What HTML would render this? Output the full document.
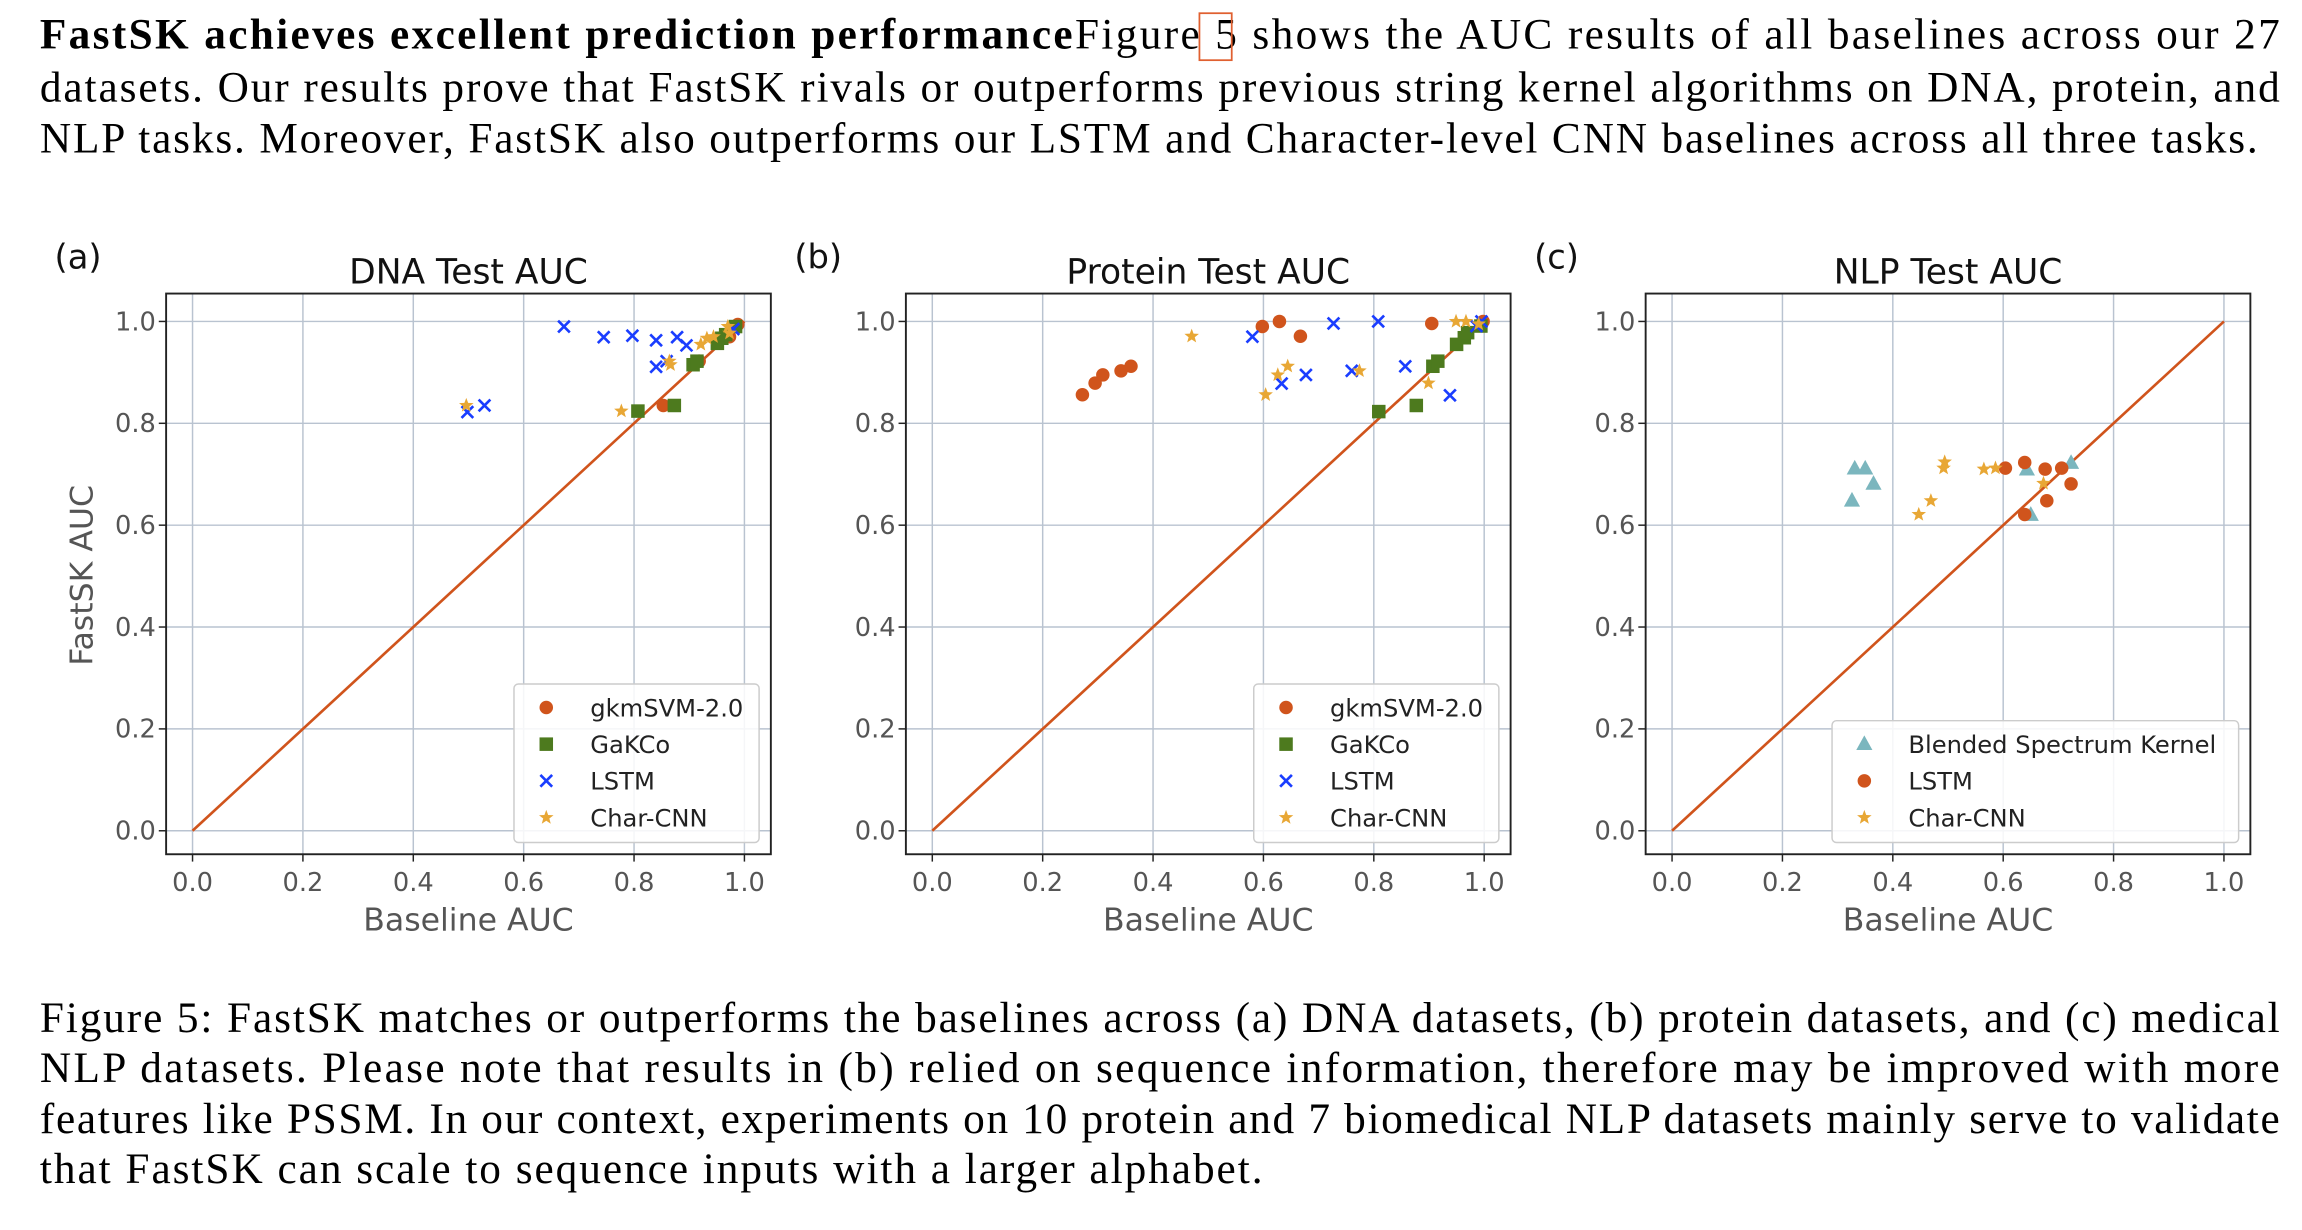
<!DOCTYPE html>
<html><head><meta charset="utf-8"><style>
html,body{margin:0;padding:0;background:#fff;}
svg{display:block;}
</style></head><body>
<svg id="fig" width="2302" height="1230" viewBox="0 0 1568 838" xmlns="http://www.w3.org/2000/svg">
<g font-family="'Liberation Serif', serif" font-size="29.5" fill="#000">
<text x="27" y="33" textLength="1526" lengthAdjust="spacing"><tspan font-weight="bold">FastSK achieves excellent prediction performance</tspan>Figure 5 shows the AUC results of all baselines across our 27</text>
<text x="27" y="69" textLength="1526" lengthAdjust="spacing">datasets. Our results prove that FastSK  rivals or outperforms previous string kernel algorithms on DNA, protein, and</text>
<text x="27" y="104" textLength="1511" lengthAdjust="spacing">NLP tasks. Moreover, FastSK also outperforms our LSTM and Character-level CNN baselines across all three tasks.</text>
<rect x="817" y="9" width="22" height="32" fill="none" stroke="#e06030" stroke-width="1.2"/>
</g>
<g font-family="'Liberation Serif', serif" font-size="29.5" fill="#000">
<text x="27" y="703" textLength="1526" lengthAdjust="spacing">Figure 5: FastSK  matches or outperforms the baselines across (a) DNA datasets, (b) protein datasets, and (c) medical</text>
<text x="27" y="737" textLength="1526" lengthAdjust="spacing">NLP datasets. Please note that results in (b) relied on sequence information, therefore may be improved with more</text>
<text x="27" y="772" textLength="1526" lengthAdjust="spacing">features like PSSM. In our context, experiments on 10 protein and 7 biomedical NLP datasets mainly serve to validate</text>
<text x="27" y="806" textLength="833" lengthAdjust="spacing">that FastSK  can scale to sequence inputs with a larger alphabet.</text>
</g>
<g id="charts"></g>
</svg>
<script>
// Panel (a) DNA
const dnaGkmX=[0.853,0.918,0.973,0.988];
const dnaGkmY=[0.835,0.922,0.970,0.994];
const dnaGakX=[0.807,0.873,0.907,0.914,0.951,0.959,0.966,0.984];
const dnaGakY=[0.824,0.835,0.915,0.922,0.957,0.967,0.974,0.990];
const dnaLstmX=[0.673,0.745,0.797,0.840,0.878,0.895,0.840,0.859,0.498,0.529,0.980];
const dnaLstmY=[0.990,0.969,0.972,0.963,0.969,0.953,0.911,0.922,0.822,0.835,0.985];
const dnaCnnX=[0.496,0.777,0.866,0.864,0.921,0.932,0.944,0.970,0.973];
const dnaCnnY=[0.835,0.824,0.915,0.922,0.955,0.967,0.970,0.990,0.977];
// Panel (b) Protein
const proGkmX=[0.272,0.295,0.309,0.342,0.360,0.598,0.629,0.667,0.905,0.998];
const proGkmY=[0.856,0.879,0.895,0.903,0.912,0.990,1.000,0.971,0.996,1.000];
const proGakX=[0.809,0.877,0.907,0.916,0.950,0.964,0.970,0.994];
const proGakY=[0.823,0.835,0.912,0.922,0.955,0.968,0.978,0.991];
const proLstmX=[0.580,0.633,0.677,0.727,0.760,0.808,0.857,0.938,0.986,0.995];
const proLstmY=[0.970,0.878,0.895,0.996,0.903,1.000,0.912,0.855,0.991,1.000];
const proCnnX=[0.470,0.604,0.626,0.644,0.774,0.899,0.949,0.967,0.990];
const proCnnY=[0.971,0.856,0.895,0.912,0.903,0.879,1.000,1.000,0.995];
// Panel (c) NLP
const nlpBskX=[0.331,0.350,0.365,0.326,0.643,0.650,0.723];
const nlpBskY=[0.711,0.711,0.681,0.648,0.709,0.620,0.722];
const nlpLstmX=[0.604,0.639,0.676,0.706,0.723,0.679,0.639];
const nlpLstmY=[0.712,0.723,0.710,0.712,0.681,0.648,0.621];
const nlpCnnX=[0.447,0.469,0.494,0.492,0.565,0.586,0.673];
const nlpCnnY=[0.621,0.648,0.724,0.712,0.710,0.712,0.682];
const tickVals=[0.0,0.2,0.4,0.6,0.8,1.0];
const tickLabels=["0.0","0.2","0.4","0.6","0.8","1.0"];

const NS="http://www.w3.org/2000/svg";
const root=document.getElementById('charts');
function mk(tag,attrs,parent){const e=document.createElementNS(NS,tag);for(const k in attrs)e.setAttribute(k,attrs[k]);parent.appendChild(e);return e;}
const C={gkm:"#d0541c",gak:"#4d7a1e",lstm:"#1a3dff",cnn:"#e8a735",bsk:"#7bb6be",diag:"#d0541c"};

function marker(type,cx,cy,g,name){
  let e;
  if(type==="gkm"){e=mk('circle',{cx:cx,cy:cy,r:4.6,fill:C.gkm},g);}
  else if(type==="gak"){e=mk('rect',{x:cx-4.6,y:cy-4.6,width:9.2,height:9.2,fill:C.gak},g);}
  else if(type==="lstm"){e=mk('path',{d:`M${cx-4},${cy-4}L${cx+4},${cy+4}M${cx-4},${cy+4}L${cx+4},${cy-4}`,stroke:C.lstm,'stroke-width':1.8,fill:'none'},g);}
  else if(type==="cnn"){let p=[];for(let i=0;i<10;i++){const r=i%2?2.2:5.2;const a=-Math.PI/2+i*Math.PI/5;p.push((cx+r*Math.cos(a)).toFixed(2)+","+(cy+r*Math.sin(a)).toFixed(2));}e=mk('polygon',{points:p.join(" "),fill:C.cnn},g);}
  else {e=mk('polygon',{points:`${cx},${cy-6} ${cx+5.5},${cy+4} ${cx-5.5},${cy+4}`,fill:C.bsk},g);}
  
  
  return e;
}

function panel(opt){
  const g=mk('g',{},root);
  
  
  const L=opt.left,R=L+412,T=200,B=582,x0=L+18,x1=L+394,y0=566,y1=219;
  const sx=v=>x0+(x1-x0)*v, sy=v=>y0-(y0-y1)*v;
  const grid=mk('g',{stroke:"#b9c3d0","stroke-width":1},g);
  
  
  tickVals.forEach((v,i)=>{
    mk('line',{x1:sx(v),x2:sx(v),y1:T,y2:B},grid);
    mk('line',{x1:L,x2:R,y1:sy(v),y2:sy(v)},grid);
    const tx=mk('text',{x:sx(v),y:B+25,'text-anchor':'middle','font-family':'DejaVu Sans, sans-serif','font-size':17.5,fill:'#555'},g);
    tx.textContent=tickLabels[i];
    
    
    const ty=mk('text',{x:L-7,y:sy(v)+6,'text-anchor':'end','font-family':'DejaVu Sans, sans-serif','font-size':17.5,fill:'#555'},g);
    ty.textContent=tickLabels[i];
    
    
    mk('line',{x1:sx(v),x2:sx(v),y1:B,y2:B+5,stroke:'#222'},g);
    mk('line',{x1:L-5,x2:L,y1:sy(v),y2:sy(v),stroke:'#222'},g);
  });
  const d=mk('line',{x1:sx(0),y1:sy(0),x2:sx(1),y2:sy(1),stroke:C.diag,'stroke-width':1.8},g);
  
  
  opt.series.forEach(s=>{
    const sg=mk('g',{},g);
    
    
    s.x.forEach((xv,i)=>marker(s.type,sx(xv),sy(s.y[i]),sg,s.name+'-point'));
  });
  const fr=mk('rect',{x:L,y:T,width:412,height:B-T,fill:'none',stroke:'#222','stroke-width':1.3},g);
  
  
  const t=mk('text',{x:(L+R)/2,y:193,'text-anchor':'middle','font-family':'DejaVu Sans, sans-serif','font-size':23.5,fill:'#111'},g);
  t.textContent=opt.title;
  
  
  const pl=mk('text',{x:L-76,y:183,'font-family':'DejaVu Sans, sans-serif','font-size':23,fill:'#111'},g);
  pl.textContent=opt.label;
  
  
  const xl=mk('text',{x:(L+R)/2,y:634,'text-anchor':'middle','font-family':'DejaVu Sans, sans-serif','font-size':21.5,fill:'#555'},g);
  xl.textContent='Baseline AUC';
  
  
  if(opt.ylabel){
    const yl=mk('text',{x:0,y:0,'text-anchor':'middle','font-family':'DejaVu Sans, sans-serif','font-size':21.5,fill:'#555',transform:`translate(${L-50},392) rotate(-90)`},g);
    yl.textContent='FastSK AUC';
    
    
  }
  const lg=mk('g',{},g);
  
  
  const n=opt.series.length, lw=opt.legendW, lx=R-8-lw, ly=B-8-(n*25+8);
  mk('rect',{x:lx,y:ly,width:lw,height:n*25+8,rx:3,fill:'#fff','fill-opacity':0.85,stroke:'#ccc'},lg);
  opt.series.forEach((s,i)=>{
    const cy=ly+16+i*25;
    const eg=mk('g',{},lg);
    
    
    marker(s.type,lx+22,cy,eg,'legend-marker');
    const tt=mk('text',{x:lx+52,y:cy+6,'font-family':'DejaVu Sans, sans-serif','font-size':16.5,fill:'#222'},eg);
    tt.textContent=s.label;
  });
}
panel({name:'dna-chart',title:'DNA Test AUC',label:'(a)',left:113,ylabel:true,legendW:167,series:[
 {name:'gkmsvm',type:'gkm',label:'gkmSVM-2.0',x:dnaGkmX,y:dnaGkmY},
 {name:'gakco',type:'gak',label:'GaKCo',x:dnaGakX,y:dnaGakY},
 {name:'lstm',type:'lstm',label:'LSTM',x:dnaLstmX,y:dnaLstmY},
 {name:'char-cnn',type:'cnn',label:'Char-CNN',x:dnaCnnX,y:dnaCnnY}]});
panel({name:'protein-chart',title:'Protein Test AUC',label:'(b)',left:617,ylabel:false,legendW:167,series:[
 {name:'gkmsvm',type:'gkm',label:'gkmSVM-2.0',x:proGkmX,y:proGkmY},
 {name:'gakco',type:'gak',label:'GaKCo',x:proGakX,y:proGakY},
 {name:'lstm',type:'lstm',label:'LSTM',x:proLstmX,y:proLstmY},
 {name:'char-cnn',type:'cnn',label:'Char-CNN',x:proCnnX,y:proCnnY}]});
panel({name:'nlp-chart',title:'NLP Test AUC',label:'(c)',left:1121,ylabel:false,legendW:277,series:[
 {name:'blended-spectrum',type:'bsk',label:'Blended Spectrum Kernel',x:nlpBskX,y:nlpBskY},
 {name:'lstm',type:'gkm',label:'LSTM',x:nlpLstmX,y:nlpLstmY},
 {name:'char-cnn',type:'cnn',label:'Char-CNN',x:nlpCnnX,y:nlpCnnY}]});
</script>
</body></html>
